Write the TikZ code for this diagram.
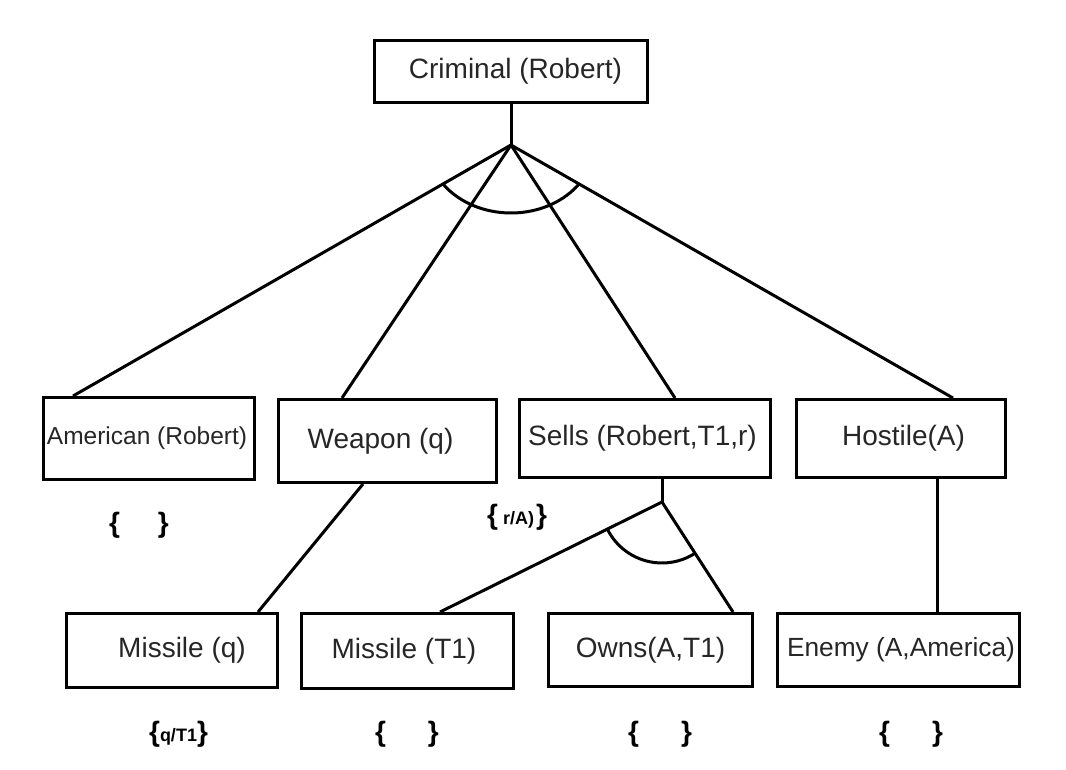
\documentclass[tikz,border=0pt]{standalone}
\usepackage{fontspec}
\setmainfont{Liberation Sans}
\usetikzlibrary{calc}
\tikzset{
  box/.style={draw, line width=3pt, inner sep=0pt, text=black!85, font=\fontsize{28}{30}\selectfont},
  brc/.style={inner sep=0pt, text=black, font=\bfseries\fontsize{28}{30}\selectfont},
  link/.style={line width=3pt},
}
\newcommand\smallsub[1]{{\fontsize{18}{20}\selectfont #1}}
\begin{document}
\begin{tikzpicture}[x=1pt,y=-1pt]
\useasboundingbox (0,0) rectangle (1066,770);
% boxes
\node[box, minimum width=273pt, minimum height=62pt] (criminal) at (511,71.5) {\hspace*{9pt}Criminal (Robert)};
\node[box, minimum width=211pt, minimum height=82pt, font=\fontsize{24.5}{26}\selectfont] (american) at (149,438.5) {\hspace*{-4pt}American (Robert)};
\node[box, minimum width=218pt, minimum height=83pt] (weapon) at (387.5,441) {\hspace*{-14pt}Weapon (q)};
\node[box, minimum width=251pt, minimum height=78pt] (sells) at (645,438.5) {\hspace*{-5pt}Sells (Robert,T1,r)};
\node[box, minimum width=209pt, minimum height=78pt] (hostile) at (901,438.5) {\hspace*{5pt}Hostile(A)};
\node[box, minimum width=211pt, minimum height=74pt] (missileq) at (172,650.5) {\hspace*{20pt}Missile (q)};
\node[box, minimum width=212pt, minimum height=75pt] (missilet) at (407.5,651) {\hspace*{-7pt}Missile (T1)};
\node[box, minimum width=204pt, minimum height=73pt] (owns) at (650.5,650) {Owns(A,T1)};
\node[box, minimum width=242pt, minimum height=73pt, font=\fontsize{26.3}{28}\selectfont] (enemy) at (898.5,650) {\hspace*{5pt}Enemy (A,America)};
% top AND node
\coordinate (v1) at (511,145);
\draw[link] (criminal.south) -- (v1);
\draw[link] (v1) -- ([xshift=-76pt]american.north);
\draw[link] (v1) -- ([xshift=-45.5pt]weapon.north);
\draw[link] (v1) -- ([xshift=30pt]sells.north);
\draw[link] (v1) -- ([xshift=52pt]hostile.north);
\draw[link] ($(v1)+(215:83pt and 68pt)$) arc[start angle=215, end angle=325, x radius=83pt, y radius=68pt];
% weapon -> missile
\draw[link] ([xshift=-24.5pt]weapon.south) -- ([xshift=86pt]missileq.north);
% sells AND node
\coordinate (v2) at (662,502);
\draw[link] ([xshift=17pt]sells.south) -- (v2);
\draw[link] (v2) -- ([xshift=32.5pt]missilet.north);
\draw[link] (v2) -- ([xshift=82.5pt]owns.north);
\draw[link] ($(v2)+(206.4:61pt)$) arc[start angle=206.4, end angle=302.8, radius=61pt];
% hostile -> enemy
\draw[link] ([xshift=36pt]hostile.south) -- ([xshift=36pt]hostile.south |- enemy.north);
% substitution labels
\node[brc] (s1) at (139,525) {\{\hspace{38pt}\}};
\node[brc] (s2) at (517,517) {\{\hspace{5pt}\smallsub{r/A)}\hspace{2pt}\}};
\node[brc] (s3) at (178.5,734) {\{\smallsub{q/T1}\}};
\node[brc] (s4) at (407,734) {\{\hspace{42pt}\}};
\node[brc] (s5) at (660,734) {\{\hspace{42pt}\}};
\node[brc] (s6) at (911,734) {\{\hspace{42pt}\}};
\end{tikzpicture}
\end{document}
